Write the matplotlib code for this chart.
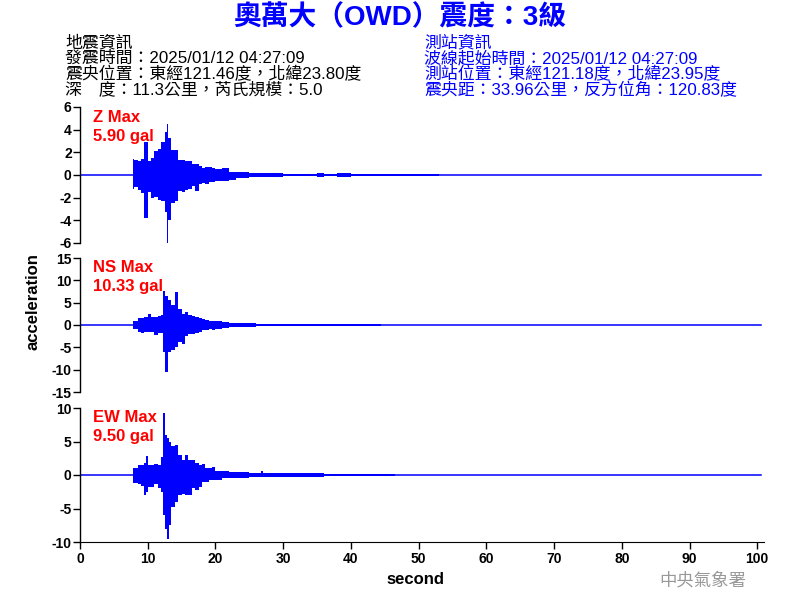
import numpy as np
import matplotlib
matplotlib.use("Agg")
import matplotlib.pyplot as plt

plt.rcParams['font.family'] = ['Liberation Sans', 'Noto Sans CJK TC', 'DejaVu Sans']

# envelope of each trace: time (s), upper and lower peak (gal)
z_t = [0, 7.6, 7.8, 8.0, 8.5, 9.0, 9.5, 10.0, 10.5, 11.0, 11.5, 12.0, 12.5, 12.8, 13.0, 13.5, 14.0, 14.5, 15.0, 15.5,
       16.0, 16.5, 17.0, 17.5, 18.0, 18.5, 19.0, 19.5, 20.0,
       21, 22, 23, 24, 25, 26, 27, 28, 29, 30,
       32, 34, 35, 36, 38, 40, 42, 44, 46, 48, 50, 52, 53, 100.5]
z_up = [0, 0, 1.4, 1.3, 1.2, 1.4, 2.9, 1.2, 1.5, 2.1, 2.3, 2.9, 3.8, 4.5, 3.3, 2.2, 2.2, 1.3, 1.3, 1.2,
        1.2, 1.0, 1.0, 0.8, 0.6, 0.7, 0.7, 0.6, 0.5,
        0.6, 0.3, 0.3, 0.25, 0.2, 0.2, 0.15, 0.15, 0.15, 0.12,
        0.12, 0.1, 0.2, 0.1, 0.15, 0.1, 0.1, 0.08, 0.05, 0.07, 0.05, 0.05, 0, 0]
z_dn = [0, 0, -1.2, -1.1, -1.3, -1.6, -3.8, -1.5, -2.0, -1.9, -2.2, -2.3, -3.3, -6.0, -4.0, -2.5, -2.3, -1.4, -1.5, -1.3,
        -1.2, -1.0, -1.4, -0.8, -0.7, -0.8, -0.6, -0.6, -0.5,
        -0.5, -0.4, -0.3, -0.3, -0.2, -0.2, -0.15, -0.15, -0.15, -0.12,
        -0.12, -0.1, -0.2, -0.1, -0.15, -0.1, -0.1, -0.08, -0.05, -0.05, -0.05, -0.05, 0, 0]

ns_t = [0, 7.6, 7.8, 8.0, 8.5, 9.0, 9.5, 10.0, 10.5, 11.0, 11.5, 12.0, 12.2, 12.5, 13.0, 13.5, 14.0, 14.5, 15.0, 15.5,
        16.0, 16.5, 17.0, 17.5, 18.0, 18.5, 19.0, 19.5, 20.0,
        21, 22, 23, 24, 25, 26, 27, 28, 29, 30,
        32, 34, 36, 38, 40, 42, 43.5, 44.5, 100.5]
ns_up = [0, 0, 1.0, 1.0, 1.5, 1.6, 1.8, 2.5, 1.8, 1.8, 2.0, 2.3, 7.7, 6.5, 5.5, 4.5, 7.5, 3.5, 2.5, 2.8,
         2.3, 2.0, 1.8, 1.6, 1.3, 1.2, 1.0, 0.9, 0.8,
         0.6, 0.5, 0.4, 0.35, 0.35, 0.3, 0.3, 0.3, 0.3, 0.3,
         0.25, 0.25, 0.2, 0.2, 0.2, 0.15, 0.15, 0, 0]
ns_dn = [0, 0, -1.0, -1.0, -1.6, -1.7, -1.6, -1.5, -1.5, -2.2, -1.8, -1.8, -6.0, -10.5, -6.0, -5.5, -5.0, -3.8, -4.2, -2.5,
         -2.0, -2.0, -1.7, -1.5, -1.2, -1.2, -1.0, -1.2, -0.9,
         -0.6, -0.5, -0.4, -0.35, -0.35, -0.3, -0.3, -0.3, -0.3, -0.3,
         -0.25, -0.25, -0.2, -0.2, -0.2, -0.15, -0.15, 0, 0]

ew_t = [0, 7.6, 7.8, 8.0, 8.5, 9.0, 9.5, 9.8, 10.0, 10.5, 11.0, 11.5, 12.0, 12.3, 12.6, 12.9, 13.2, 13.5, 14.0, 14.5,
        15.0, 15.5, 16.0, 16.5, 17.0, 17.5, 18.0, 18.5, 19.0, 19.5, 20.0,
        21, 22, 23, 24, 25, 26, 26.7, 27, 28, 29, 30,
        32, 34, 36, 38, 40, 42, 44, 46, 46.5, 100.5]
ew_up = [0, 0, 1.0, 1.0, 1.5, 1.5, 1.8, 2.8, 1.5, 1.5, 1.6, 1.5, 2.7, 9.2, 6.0, 5.5, 5.0, 4.3, 4.5, 3.0,
         2.2, 3.0, 2.2, 2.2, 1.8, 1.5, 1.7, 1.0, 1.0, 1.2, 0.6,
         0.6, 0.5, 0.4, 0.4, 0.35, 0.3, 0.6, 0.3, 0.3, 0.3, 0.3,
         0.25, 0.25, 0.2, 0.2, 0.2, 0.15, 0.1, 0.1, 0, 0]
ew_dn = [0, 0, -1.2, -1.2, -1.3, -1.6, -3.0, -2.5, -1.8, -1.8, -1.4, -2.0, -2.5, -6.0, -8.0, -9.5, -7.5, -4.8, -4.0, -3.0,
         -2.8, -3.0, -3.0, -2.0, -2.2, -1.8, -1.0, -1.0, -0.8, -0.8, -0.8,
         -0.5, -0.4, -0.4, -0.4, -0.35, -0.3, -0.3, -0.3, -0.3, -0.3, -0.3,
         -0.25, -0.25, -0.2, -0.2, -0.15, -0.15, -0.1, -0.1, 0, 0]

channels = ["Z", "NS", "EW"]
max_gal = ["5.90", "10.33", "9.50"]
y_lims = [6, 15, 10]
y_ticks = [[6, 4, 2, 0, -2, -4, -6], [15, 10, 5, 0, -5, -10, -15], [10, 5, 0, -5, -10]]
x_ticks = list(range(0, 101, 10))

title = "奧萬大（OWD）震度：3級"
quake_info = ["地震資訊", "發震時間：2025/01/12 04:27:09",
              "震央位置：東經121.46度，北緯23.80度", "深　度：11.3公里，芮氏規模：5.0"]
station_info = ["測站資訊", "波線起始時間：2025/01/12 04:27:09",
                "測站位置：東經121.18度，北緯23.95度", "震央距：33.96公里，反方位角：120.83度"]

W, H = 800, 600
fig = plt.figure(figsize=(8, 6), dpi=100)

panels = [(107, 243), (258, 392), (408, 542)]
traces = [(z_t, z_up, z_dn), (ns_t, ns_up, ns_dn), (ew_t, ew_up, ew_dn)]
label_y = [118, 268, 418]
blue = (0, 0, 1)

for i, (top, bot) in enumerate(panels):
    ax = fig.add_axes([80 / W, 1 - bot / H, (764 - 80) / W, (bot - top) / H])
    t, up, dn = traces[i]
    ax.fill_between(t, dn, up, step='post', color=blue, lw=0)
    ax.plot([t[0], t[-1]], [0, 0], color=blue, lw=1.1)
    ax.set_xlim(0, 101)
    ax.set_ylim(-y_lims[i], y_lims[i])
    ax.set_yticks(y_ticks[i])
    ax.set_yticklabels([str(v) for v in y_ticks[i]], fontsize=10, fontweight='bold')
    for s in ["top", "right"]:
        ax.spines[s].set_visible(False)
    ax.spines["left"].set_linewidth(1)
    ax.tick_params(axis='y', length=5, width=1, pad=1)
    if i < 2:
        ax.spines["bottom"].set_visible(False)
        ax.set_xticks([])
    else:
        ax.set_xticks(x_ticks)
        ax.set_xticklabels([str(v) for v in x_ticks], fontsize=10, fontweight='bold')
        ax.tick_params(axis='x', length=5, width=1, pad=2)
    fig.text(93 / W, 1 - label_y[i] / H, channels[i] + " Max", color='red',
             fontsize=12, fontweight='bold', va='center')
    fig.text(93 / W, 1 - (label_y[i] + 19) / H, max_gal[i] + " gal", color='red',
             fontsize=12, fontweight='bold', va='center')

fig.text(400 / W, 1 - 18 / H, title, color=blue, fontsize=20, fontweight='bold',
         ha='center', va='center')
for k, line in enumerate(quake_info):
    fig.text(65 / W, 1 - (43 + 15.6 * k) / H, line, color='black', fontsize=12.2, va='center')
for k, line in enumerate(station_info):
    fig.text(424 / W, 1 - (43 + 15.6 * k) / H, line, color=blue, fontsize=12.2, va='center')

fig.text(33 / W, 1 - 302 / H, "acceleration", rotation=90, fontsize=12, fontweight='bold',
         ha='center', va='center')
fig.text(415 / W, 1 - 580 / H, "second", fontsize=12, fontweight='bold', ha='center', va='center')
fig.text(703 / W, 1 - 580 / H, "中央氣象署", color='#999999', fontsize=12.5, ha='center', va='center',
         family=['Noto Sans CJK TC'])

fig.savefig("out.png", dpi=100)
